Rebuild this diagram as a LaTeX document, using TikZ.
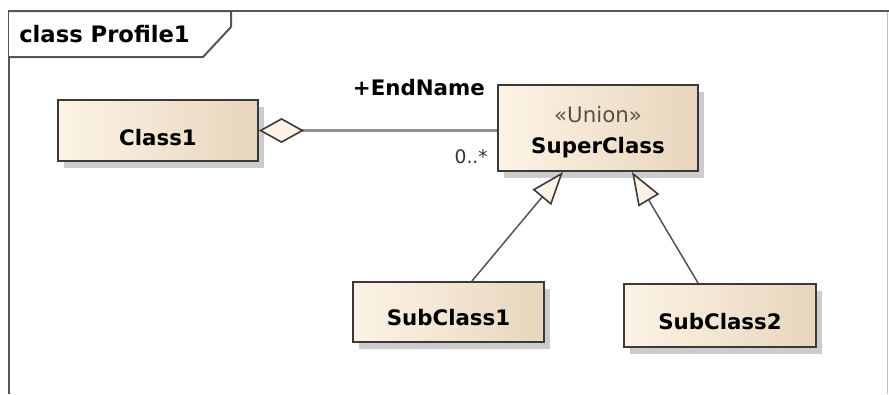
\documentclass[tikz,border=0pt]{standalone}
\usepackage{fontspec}
\setmainfont{DejaVu Sans}
\usetikzlibrary{arrows.meta,shadows,calc}
\definecolor{fillL}{HTML}{FCF3E6}
\definecolor{fillR}{HTML}{E8D6BD}
\definecolor{boxline}{HTML}{3A3A3A}
\definecolor{assoc}{HTML}{8E8E8E}
\definecolor{genline}{HTML}{505050}
\definecolor{frameline}{HTML}{555555}
\definecolor{stereocol}{HTML}{5A5046}
\definecolor{multcol}{HTML}{333333}
\begin{document}
\begin{tikzpicture}[x=0.75pt,y=-0.75pt,
  bigtext/.style={font=\fontsize{16}{19}\selectfont\bfseries},
  classbox/.style={draw=boxline, line width=1.5pt, left color=fillL, right color=fillR,
    bigtext, text depth=0pt, inner sep=0pt,
    drop shadow={shadow xshift=4.5pt, shadow yshift=-5pt, fill=black!20, opacity=1}},
  stereotext/.style={font=\fontsize{16}{19}\selectfont, text=stereocol, inner sep=0pt},
  roletext/.style={bigtext, inner sep=0pt},
  titletext/.style={font=\fontsize{17}{20}\selectfont\bfseries, inner sep=0pt},
  multtext/.style={font=\fontsize{14}{16}\selectfont, text=multcol, inner sep=0pt},
  genarrow/.style={genline, line width=1.1pt,
    -{Triangle[length=24.75pt, width=18pt, fill=fillL, color=boxline, line width=1.2pt]}},
  aggline/.style={assoc, line width=2pt,
    {Diamond[length=33.75pt, width=18.75pt, fill=fillL, color=boxline, line width=1.2pt]}-}
]
\useasboundingbox (0,0) rectangle (889,394);
% frame
\draw[black!25, line width=0.75pt] (887.5,11) -- (887.5,394);
\draw[frameline, line width=1.5pt] (9,394) -- (9,11) -- (889,11);
\draw[frameline, line width=1.5pt, fill=white] (9,11) -- (231,11) -- (231,27) -- (203,57) -- (9,57);
\node[titletext, anchor=base west] (title) at (19,42) {class Profile1};
% classes
\node[classbox, minimum width=150pt, minimum height=45.75pt, text height=21.75pt] (Class1) at (158,130.5) {Class1};
\node[classbox, minimum width=150pt, minimum height=64.5pt, text height=37.5pt] (SuperClass) at (598,128) {SuperClass};
\node[stereotext, anchor=base] (stereo) at ($(SuperClass.center)+(0,-6)$) {«Union»};
\node[classbox, minimum width=143.25pt, minimum height=45pt, text height=19.5pt] (SubClass1) at (448.5,312) {SubClass1};
\node[classbox, minimum width=144pt, minimum height=47.25pt, text height=20.25pt] (SubClass2) at (720,315.5) {SubClass2};
% association
\draw[aggline] (Class1.east) -- (Class1.east -| SuperClass.west);
\node[roletext, anchor=base east] (endname) at (485,95) {+EndName};
\node[multtext, anchor=base east] (mult) at (488,163) {0..*};
% generalizations
\draw[genarrow] ([xshift=17.6pt]SubClass1.north) -- ([xshift=-26.25pt]SuperClass.south);
\draw[genarrow] ([xshift=-16.5pt]SubClass2.north) -- ([xshift=25.5pt]SuperClass.south);
\end{tikzpicture}
\end{document}
